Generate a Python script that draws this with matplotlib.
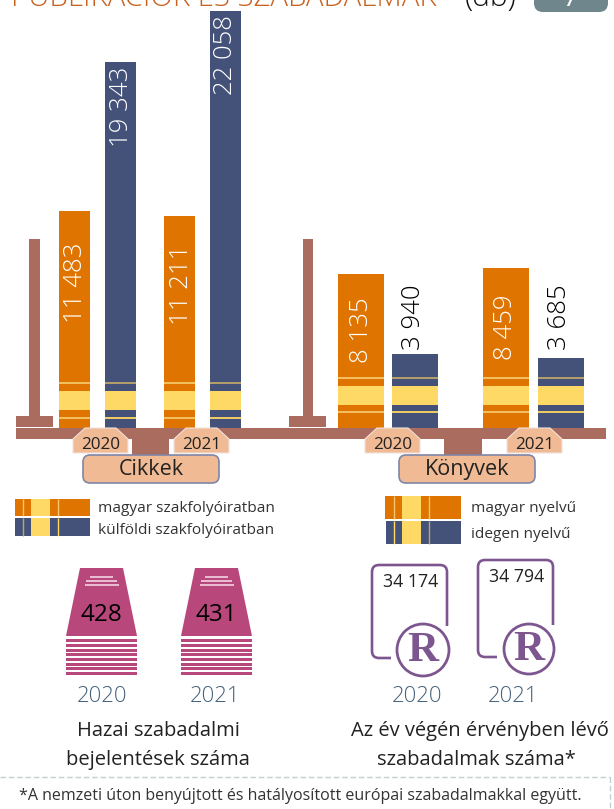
import matplotlib
matplotlib.use("Agg")
from matplotlib import pyplot as plt
from matplotlib.patches import Rectangle, Polygon, FancyBboxPatch, Circle
from matplotlib.path import Path
from matplotlib.patches import PathPatch

plt.rcParams['font.family'] = ['Open Sans', 'DejaVu Sans']

# data
cikkek_years = ['2020', '2021']
cikkek_magyar = [11483, 11211]
cikkek_kulfoldi = [19343, 22058]
konyvek_magyar = [8135, 8459]
konyvek_idegen = [3940, 3685]
bejelentes_years = ['2020', '2021']
bejelentes = [428, 431]
ervenyben = [34174, 34794]


def fmt(v):
    return '{:,}'.format(v).replace(',', ' ')


ORANGE = '#DF7500'
BLUE = '#44527A'
YELLOW = '#FFD966'
BROWN = '#A96C5E'
PEACH = '#F0BA94'
PINK = '#B8477B'
PURPLE = '#7D5690'
TEXT = '#222222'

W, H = 614, 809
fig = plt.figure(figsize=(W / 100, H / 100), dpi=100)

# pixel coordinate axes, under and over the bars
ax = fig.add_axes([0, 0, 1, 1], zorder=0)
top = fig.add_axes([0, 0, 1, 1], zorder=2)
for a in (ax, top):
    a.set_xlim(0, W)
    a.set_ylim(H, 0)
    a.axis('off')
    a.patch.set_alpha(0)

# bars get their own value axis: 0 at y=428, max at y=11
bar_ax = fig.add_axes([0, (H - 428) / H, 1, 417 / H], zorder=1)
bar_ax.set_xlim(0, W)
bar_ax.set_ylim(0, 22058)
bar_ax.axis('off')
bar_ax.patch.set_alpha(0)


def rect(a, x0, y0, x1, y1, color, z=2):
    a.add_patch(Rectangle((x0, y0), x1 - x0, y1 - y0, fc=color, ec='none', zorder=z))


# title, cut off by the top edge
ax.text(11, 6, 'PUBLIKÁCIÓK ÉS SZABADALMAK', color='#C8601E', fontsize=21.2,
        va='baseline', ha='left', fontweight='light')
ax.text(465, 6, '(db)', color='#111111', fontsize=21.5, va='baseline', ha='left', fontweight='light')
ax.add_patch(FancyBboxPatch((534, -20), 74, 32, boxstyle='round,pad=0,rounding_size=9',
                            fc='#6F868C', ec='none', mutation_aspect=1))
ax.text(571, 6, '7', color='white', fontsize=20, ha='center', va='baseline')

# brown balance shape
rect(ax, 16, 428, 606, 439, BROWN)
rect(ax, 29, 239, 40, 416, BROWN)
rect(ax, 16, 416, 53, 427, BROWN)
rect(ax, 303, 239, 313, 416, BROWN)
rect(ax, 289, 416, 326, 427, BROWN)
rect(ax, 132, 439, 169, 457, BROWN)
rect(ax, 444, 439, 482, 457, BROWN)

# bars
bar_groups = [
    ([59, 164], 31, cikkek_magyar, ORANGE),
    ([105, 210], 31, cikkek_kulfoldi, BLUE),
    ([338, 483], 46, konyvek_magyar, ORANGE),
    ([392, 538], 46, konyvek_idegen, BLUE),
]
for xs, w, vals, col in bar_groups:
    bar_ax.bar([x + w / 2 for x in xs], vals, width=w, color=col)

# bands on the bars
bands = [(59, 90, 391, 410, 383, 418, '#F5C76A', '#F5C76A'),
         (105, 136, 391, 410, 383, 418, '#BFA76A', YELLOW),
         (164, 195, 391, 410, 383, 418, '#F5C76A', '#F5C76A'),
         (210, 241, 391, 410, 383, 418, '#BFA76A', YELLOW),
         (338, 384, 386, 405, 378, 412, '#F5C76A', '#F5C76A'),
         (392, 438, 386, 405, 378, 412, '#BFA76A', YELLOW),
         (483, 529, 386, 405, 378, 412, '#F5C76A', '#F5C76A'),
         (538, 584, 386, 405, 378, 412, '#BFA76A', YELLOW)]
for x0, x1, b0, b1, l0, l1, c0, c1 in bands:
    rect(top, x0, b0, x1, b1, YELLOW)
    top.plot([x0, x1], [l0, l0], color=c0, lw=1.3, solid_capstyle='butt')
    top.plot([x0, x1], [l1, l1], color=c1, lw=1.3, solid_capstyle='butt')

# rotated value labels
value_labels = [(76, 283, cikkek_magyar[0], 'white'), (121, 107, cikkek_kulfoldi[0], 'white'),
                (181, 285, cikkek_magyar[1], 'white'), (226, 55, cikkek_kulfoldi[1], 'white'),
                (362, 330, konyvek_magyar[0], 'white'), (414, 317, konyvek_idegen[0], 'black'),
                (506, 327, konyvek_magyar[1], 'white'), (560, 317, konyvek_idegen[1], 'black')]
for x, y, v, col in value_labels:
    top.text(x, y, fmt(v), rotation=90, color=col, fontsize=18.5, ha='center', va='center',
             fontweight='light')


# year tabs
def tab(x0, x1, label):
    pts = [(x0 + 12, 428), (x1 - 12, 428), (x1, 439), (x1, 453), (x0, 453), (x0, 439)]
    top.add_patch(Polygon(pts, closed=True, fc=PEACH, ec='#EFE3DC', lw=0.8))
    top.text((x0 + x1) / 2, 444.5, label, color=TEXT, fontsize=12.3, ha='center', va='center')


tab(73, 128, cikkek_years[0])
tab(174, 229, cikkek_years[1])
tab(365, 420, cikkek_years[0])
tab(507, 562, cikkek_years[1])

# group pills
for x0, label in [(83, 'Cikkek'), (399, 'Könyvek')]:
    top.add_patch(FancyBboxPatch((x0, 455), 136, 28, boxstyle='round,pad=0,rounding_size=7',
                                 fc=PEACH, ec='#7F86A8', lw=1.2))
    top.text(x0 + 68, 469, label, color=TEXT, fontsize=15.5, ha='center', va='center')


# legends
def swatch(x0, x1, y0, y1, col, by0, by1, l0, l1, c0, c1):
    rect(ax, x0, y0, x1, y1, col)
    rect(ax, by0, y0, by1, y1, YELLOW, 3)
    ax.plot([l0, l0], [y0, y1], color=c0, lw=1, zorder=4, solid_capstyle='butt')
    ax.plot([l1, l1], [y0, y1], color=c1, lw=1, zorder=4, solid_capstyle='butt')


swatch(15, 90, 499, 516, ORANGE, 31, 50, 23, 58, '#F5C76A', '#F5C76A')
swatch(15, 90, 518, 536, BLUE, 31, 50, 23, 58, '#BFA76A', YELLOW)
swatch(385, 461, 496, 519, ORANGE, 402, 421, 394, 429, '#F5C76A', '#F5C76A')
swatch(386, 461, 521, 544, BLUE, 402, 421, 394, 429, YELLOW, '#BFA76A')
ax.text(98, 509, 'magyar szakfolyóiratban', color='#333333', fontsize=11.1, va='center')
ax.text(98, 531, 'külföldi szakfolyóiratban', color='#333333', fontsize=11.1, va='center')
ax.text(471, 509, 'magyar nyelvű', color='#333333', fontsize=11.1, va='center')
ax.text(471, 535, 'idegen nyelvű', color='#333333', fontsize=11.1, va='center')

# stacks of paper
for dx, v in zip([0, 115], bejelentes):
    ax.add_patch(Polygon([(80 + dx, 568), (123 + dx, 568), (137 + dx, 636), (66 + dx, 636)],
                         closed=True, fc=PINK, ec='none'))
    for x0, x1, y in [(90, 113, 577), (86, 117, 581), (85, 119, 585)]:
        ax.plot([x0 + dx, x1 + dx], [y, y], color='#F3D3E2', lw=1.2, solid_capstyle='butt')
    for y in [640, 645, 650, 654, 659, 664, 668, 673]:
        rect(ax, 66 + dx, y - 1.5, 137 + dx, y + 1.5, PINK)
    ax.text(101 + dx, 615, str(v), color='black', fontsize=17.5, ha='center', va='center')


# R marks
def bracket(xl, xr, yt, yb, xe, ye, cx, cy, r, v, tx, ty):
    c = 7
    verts = [(xe, yb), (xl + c, yb), (xl, yb), (xl, yb - c), (xl, yt + c), (xl, yt), (xl + c, yt),
             (xr - c, yt), (xr, yt), (xr, yt + c), (xr, ye)]
    codes = [Path.MOVETO, Path.LINETO, Path.CURVE3, Path.CURVE3, Path.LINETO, Path.CURVE3, Path.CURVE3,
             Path.LINETO, Path.CURVE3, Path.CURVE3, Path.LINETO]
    ax.add_patch(PathPatch(Path(verts, codes), fc='none', ec=PURPLE, lw=1.9))
    ax.add_patch(Circle((cx, cy), r, fc='white', ec=PURPLE, lw=2))
    ax.text(cx, cy + 1, 'R', color=PURPLE, fontsize=31, fontweight='bold', family='Liberation Serif',
            ha='center', va='center')
    ax.text(tx, ty, fmt(v), color=TEXT, fontsize=12.8, ha='center', va='center')


bracket(372, 447, 565, 658, 391, 626, 423, 650, 26, ervenyben[0], 411, 582)
bracket(478, 553, 560, 657, 497, 625, 529, 649, 25, ervenyben[1], 517, 577)

# captions
for x, y in [(102, 697), (215, 697), (417, 697), (513, 697)]:
    lab = '2020' if x in (102, 417) else '2021'
    ax.text(x, y, lab, color='#44617A', fontsize=15.8, ha='center', va='center', fontweight='light')
ax.text(158, 731, 'Hazai szabadalmi', color=TEXT, fontsize=14.5, ha='center', va='center')
ax.text(158, 760, 'bejelentések száma', color=TEXT, fontsize=14.5, ha='center', va='center')
ax.text(480, 731, 'Az év végén érvényben lévő', color=TEXT, fontsize=14.5, ha='center', va='center')
ax.text(476, 760, 'szabadalmak száma*', color=TEXT, fontsize=14.5, ha='center', va='center')

ax.plot([0, 610], [777, 777], color='#C5D0D0', lw=1, ls=(0, (4, 2)))
ax.plot([610, 610], [777, 809], color='#C5D0D0', lw=1, ls=(0, (4, 2)))
ax.text(300, 796, '*A nemzeti úton benyújtott és hatályosított európai szabadalmakkal együtt.',
        color='#333333', fontsize=11.5, ha='center', va='center')

fig.savefig('out.png', dpi=100)
